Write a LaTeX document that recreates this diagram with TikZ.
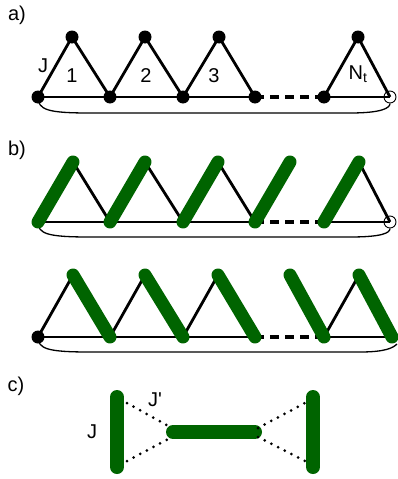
\documentclass[tikz,border=0pt]{standalone}
\usepackage{fontspec}
\setmainfont{Liberation Sans}
\definecolor{Bond}{HTML}{006400}
\tikzset{
  dot/.style={circle, fill=black, inner sep=0pt, minimum size=13pt},
  opendot/.style={circle, draw=black, line width=0.9pt, inner sep=0pt, minimum size=12pt},
  edge/.style={line width=2.8pt},
  gap/.style={line width=3.4pt, dash pattern=on 9pt off 6pt},
  wrap/.style={line width=1.3pt},
  bond/.style={draw=Bond, line width=13pt, line cap=round},
  weak/.style={line width=3pt, dash pattern=on 0pt off 7.5pt, line cap=round},
  lab/.style={font=\fontsize{20}{24}\selectfont, inner sep=0pt}
}

\begin{document}
\begin{tikzpicture}[x=1pt, y=-1pt]
  \useasboundingbox (0,0) rectangle (397,479);

  % a) chain of triangles
  \node[lab] at (17,15) {a)};
  \foreach \n/\x in {1/38,2/110,3/183,4/255,5/324} \node[dot] (ch\n) at (\x,97) {};
  \node[opendot] (ch6) at (390,97) {};
  \foreach \n/\x in {1/72,2/145,3/219,5/358} \node[dot] (cht\n) at (\x,37) {};
  \draw[edge] (ch1.center) -- (ch4.center);
  \draw[gap]  (ch4.center) -- (ch5.center);
  \draw[edge] (ch5.center) -- (ch6.center);
  \foreach \n/\m in {1/2,2/3,3/4,5/6}
    \draw[edge] (ch\n.center) -- (cht\n.center) -- (ch\m.center);
  \draw[wrap] (ch1.center) .. controls (38,110) and (48,113) .. (90,113) -- (350,113)
              .. controls (382,113) and (390,108) .. (ch6.south);
  \node[lab] at (43,66) {J};
  \node[lab] at (72,76) {1};
  \node[lab] at (146,76) {2};
  \node[lab] at (214,76) {3};
  \node[lab] at (358,74) {N\textsubscript{t}};

  % b) dimers on the left edges
  \node[lab] at (17,150) {b)};
  \foreach \n/\x in {1/38,2/110,3/183,4/255,5/324} \coordinate (up\n) at (\x,222);
  \node[opendot] (up6) at (390,222) {};
  \foreach \n/\x in {1/73,2/145,3/218,4/290,5/359} \coordinate (upt\n) at (\x,162);
  \draw[edge] (up1) -- (up4);
  \draw[gap]  (up4) -- (up5);
  \draw[edge] (up5) -- (up6.center);
  \foreach \n/\m in {1/2,2/3,3/4} \draw[edge] (upt\n) -- (up\m);
  \draw[edge] (upt5) -- (up6.center);
  \draw[wrap] (up1) .. controls (38,234) and (48,237) .. (90,237) -- (350,237)
              .. controls (382,237) and (390,233) .. (up6.south);
  \foreach \n in {1,...,5} \draw[bond] (up\n) -- (upt\n);

  % b) dimers on the right edges
  \foreach \n/\x in {1/38,2/110,3/183,4/255,5/324,6/392} \coordinate (lo\n) at (\x,337);
  \foreach \n/\x in {1/73,2/145,3/218,4/290,5/359} \coordinate (lot\n) at (\x,275);
  \coordinate (loend) at (397,344);
  \draw[edge] (lo1) -- (lo4);
  \draw[gap]  (lo4) -- (lo5);
  \draw[edge] (lo5) -- (lo6);
  \foreach \n in {1,2,3,5} \draw[edge] (lo\n) -- (lot\n);
  \draw[wrap] (lo1) .. controls (38,349) and (48,352) .. (90,352) -- (360,352)
              .. controls (385,352) and (393,348) .. (loend);
  \foreach \n/\m in {1/2,2/3,3/4,4/5,5/6} \draw[bond] (lot\n) -- (lo\m);
  \node[dot] (lodot) at (lo1) {};

  % c) effective couplings
  \node[lab] at (16,386) {c)};
  \coordinate (lt) at (117,397); \coordinate (lb) at (117,467);
  \coordinate (ml) at (173,432); \coordinate (mr) at (255,432);
  \coordinate (rt) at (313,397); \coordinate (rb) at (313,467);
  \draw[bond, line width=14pt] (lt) -- (lb);
  \draw[bond, line width=14pt] (ml) -- (mr);
  \draw[bond, line width=14pt] (rt) -- (rb);
  \draw[weak] (127,403) -- (172,428);
  \draw[weak] (127,461) -- (172,437);
  \draw[weak] (258,428) -- (305,403);
  \draw[weak] (258,437) -- (305,461);
  \node[lab] at (92,432) {J};
  \node[lab] at (155,400) {J\textquotesingle};
\end{tikzpicture}
\end{document}
